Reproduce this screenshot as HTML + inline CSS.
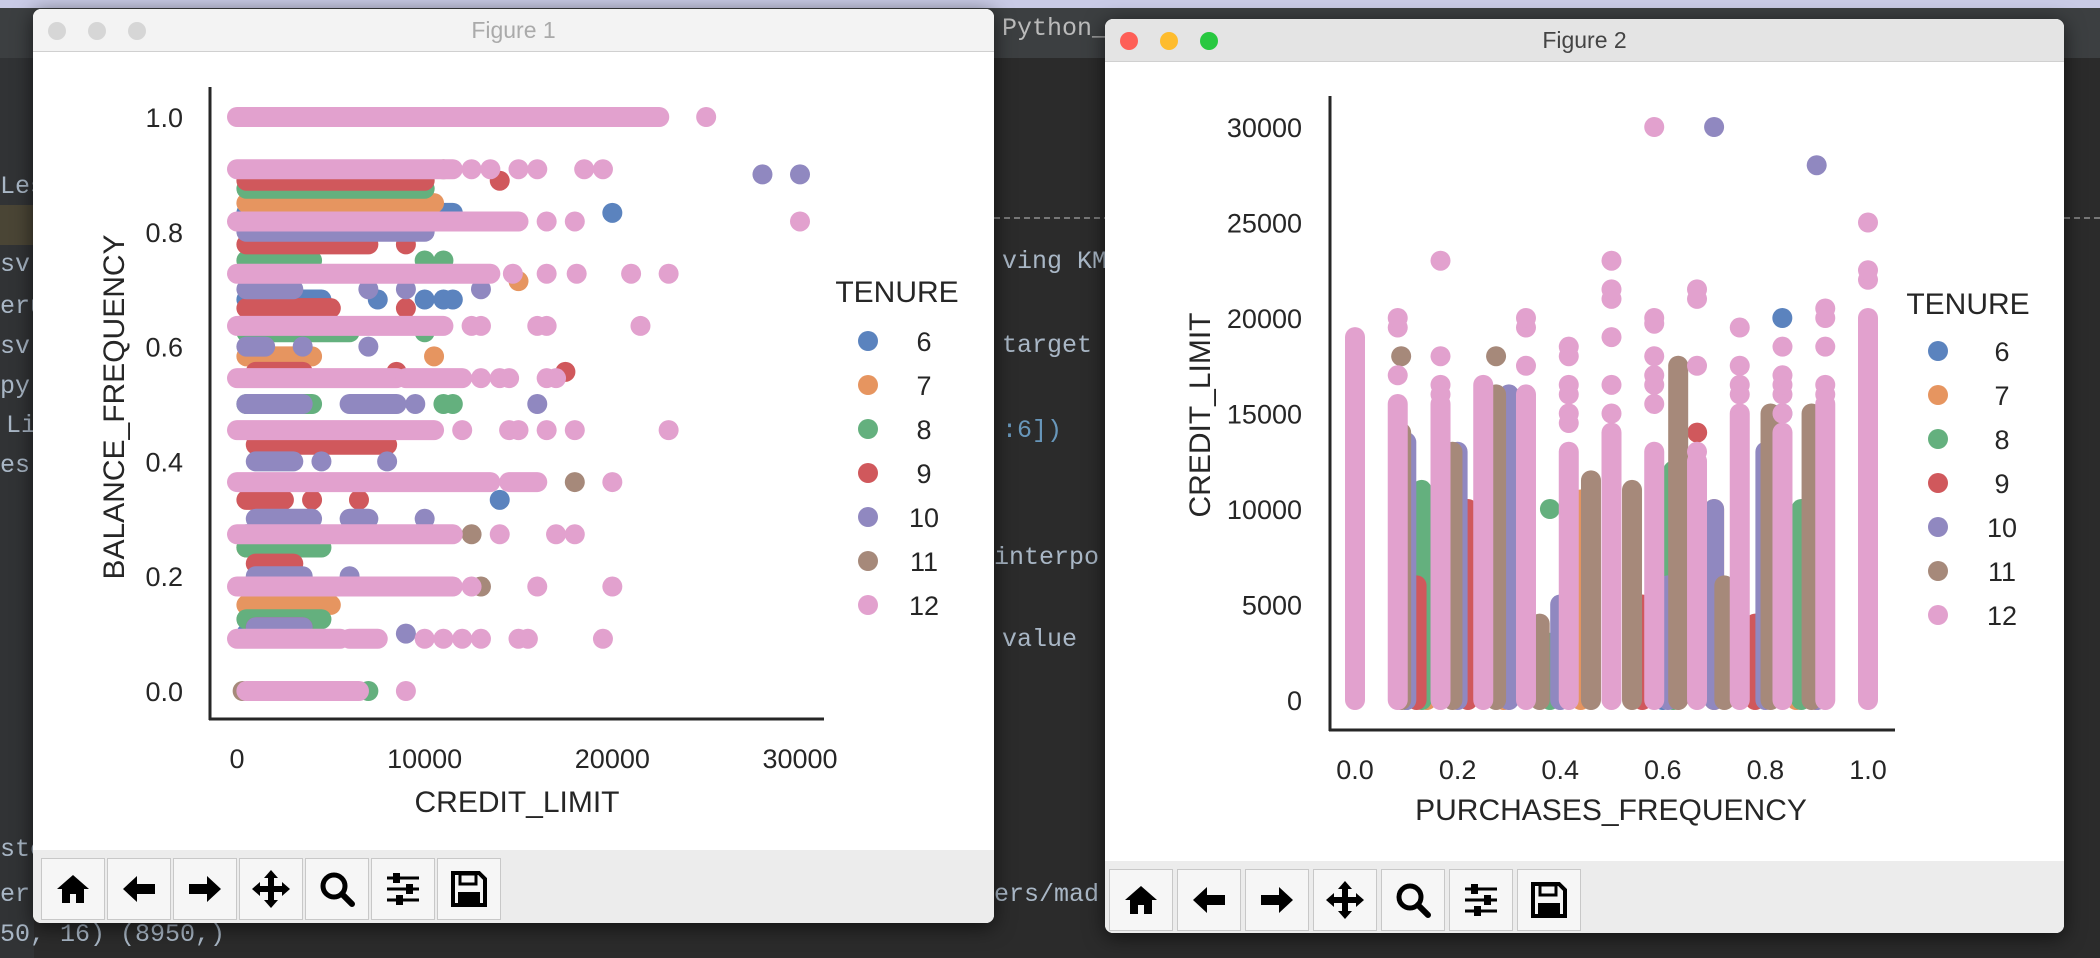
<!DOCTYPE html>
<html><head><meta charset="utf-8">
<style>
html,body{margin:0;padding:0;width:2100px;height:958px;overflow:hidden;background:#2b2b2b;font-family:"Liberation Sans",sans-serif;}
.abs{position:absolute;}
.ide{position:absolute;font-family:"Liberation Mono",monospace;font-size:25px;color:#a9b7c6;white-space:pre;}
.win{position:absolute;background:#fff;border-radius:8px;overflow:hidden;box-shadow:0 4px 20px rgba(0,0,0,.6);}
.title{position:absolute;left:0;right:0;top:0;height:42px;background:#ececec;border-bottom:1px solid #d0d0d0;text-align:center;line-height:42px;font-size:23px;}
.dot{position:absolute;top:13px;width:18px;height:18px;border-radius:50%;}
.tb{position:absolute;left:0;right:0;background:#ececec;}
.btn{position:absolute;top:8px;width:62px;height:60px;border:1px solid #c8c8c8;background:#f6f6f6;}
</style></head>
<body>
<div class="abs" style="left:0;top:0;width:2100px;height:8px;background:#c9cbe6"></div>
<div class="abs" style="left:0;top:8px;width:2100px;height:50px;background:#3c3f41"></div>
<div class="abs" style="left:0;top:58px;width:34px;height:900px;background:#313335"></div>
<div class="abs" style="left:0;top:205px;width:34px;height:40px;background:#4a4535"></div>
<div class="abs" style="left:994px;top:217px;width:1106px;border-top:2px dashed #777"></div>
<div class="ide" style="left:1002px;top:14px;color:#bbb">Python_</div>
<div class="ide" style="left:0;top:172px">Les</div>
<div class="ide" style="left:0;top:250px">sv</div>
<div class="ide" style="left:0;top:292px">eru</div>
<div class="ide" style="left:0;top:332px">sv</div>
<div class="ide" style="left:0;top:372px">py</div>
<div class="ide" style="left:6px;top:411px">Li</div>
<div class="ide" style="left:0;top:451px">es</div>
<div class="ide" style="left:0;top:835px">ste</div>
<div class="ide" style="left:0;top:880px">er</div>
<div class="ide" style="left:0;top:920px">50, 16) (8950,)</div>
<div class="ide" style="left:1002px;top:247px">ving KMe</div>
<div class="ide" style="left:1002px;top:331px">target</div>
<div class="ide" style="left:1002px;top:416px;color:#6897bb">:6])</div>
<div class="ide" style="left:994px;top:543px">interpo</div>
<div class="ide" style="left:1002px;top:625px">value</div>
<div class="ide" style="left:994px;top:880px">ers/mad</div>

<div class="win" style="left:33px;top:9px;width:961px;height:914px">
  <div class="title" style="color:#aaa;background:#f3f3f3">Figure 1
    <span class="dot" style="left:15px;background:#d6d6d6"></span><span class="dot" style="left:55px;background:#d6d6d6"></span><span class="dot" style="left:95px;background:#d6d6d6"></span></div>
  <div class="tb" style="top:841px;height:73px" id="tb1"></div>
</div>
<div class="win" style="left:1105px;top:19px;width:959px;height:914px">
  <div class="title" style="color:#444;background:#e4e4e4">Figure 2
    <span class="dot" style="left:15px;background:#fe5f57"></span><span class="dot" style="left:55px;background:#febc2e"></span><span class="dot" style="left:95px;background:#28c840"></span></div>
  <div class="tb" style="top:842px;height:72px" id="tb2"></div>
</div>

<svg id="plot" class="abs" style="left:0;top:0" width="2100" height="958" xmlns="http://www.w3.org/2000/svg"></svg>

<script>
// ---------- Figure 1 data: BALANCE_FREQUENCY vs CREDIT_LIMIT ----------
const tenureLabels = ["6","7","8","9","10","11","12"];
const tenureColors = ["#5b83be","#e69560","#64b07e","#d0585c","#9088c0","#a6897a","#e2a1ce"];
const f1XTicks = [0,10000,20000,30000];
const f1YTicks = [0.0,0.2,0.4,0.6,0.8,1.0];
// runs: [y, xStart, xEnd]; points: [x, y]
const f1Runs6 = [[0.833,500,11500],[0.682,500,4500],[0.273,500,3000],[0.182,500,6000],[0.1,500,2500]];
const f1Pts6 = [[20000,0.833],[7500,0.682],[10000,0.682],[11000,0.682],[11500,0.682],[14000,0.333]];
const f1Runs7 = [[0.85,500,10000],[0.583,500,4000],[0.15,500,5000],[0.25,500,1000]];
const f1Pts7 = [[10500,0.583],[15000,0.714],[10500,0.85]];
const f1Runs8 = [[0.875,500,10000],[0.75,500,4000],[0.5,500,4000],[0.125,500,4500],[0.625,500,6000],[0.25,500,4500]];
const f1Pts8 = [[10000,0.75],[11000,0.75],[11000,0.5],[11500,0.5],[7000,0.0],[10000,0.625]];
const f1Runs9 = [[0.889,500,10000],[0.778,500,7000],[0.667,500,5000],[0.556,1000,3500],[0.429,1000,8000],[0.333,500,2500],[0.222,1000,3000],[0.111,1000,3500]];
const f1Pts9 = [[14000,0.889],[9000,0.778],[9000,0.667],[8500,0.556],[17500,0.556],[6500,0.333],[4000,0.333]];
const f1Runs10 = [[0.8,500,10000],[0.7,500,3000],[0.6,500,1500],[0.5,500,3500],[0.5,6000,8500],[0.4,1000,3000],[0.3,1000,4000],[0.3,6000,7000],[0.2,1000,3500],[0.111,1000,3500]];
const f1Pts10 = [[28000,0.9],[30000,0.9],[7000,0.7],[9000,0.7],[13000,0.7],[3500,0.6],[7000,0.6],[9500,0.5],[16000,0.5],[4500,0.4],[8000,0.4],[10000,0.3],[6000,0.2],[9000,0.1]];
const f1Runs11 = [];
const f1Pts11 = [[11000,0.909],[18000,0.364],[12500,0.273],[13000,0.182],[7500,0.182],[300,0.0]];
const f1Runs12 = [[1.0,0,22500],[0.909,0,11500],[0.818,0,15000],[0.727,0,13500],[0.636,0,11000],[0.545,0,8500],[0.545,9000,12000],[0.4545,0,10500],[0.364,0,13500],[0.364,14500,16000],[0.273,0,11500],[0.182,0,11500],[0.091,0,5500],[0.091,6000,7500],[0.0,500,6500]];
const f1Pts12 = [[25000,1.0],[12500,0.909],[13500,0.909],[15000,0.909],[16000,0.909],[18500,0.909],[19500,0.909],[16500,0.818],[18000,0.818],[30000,0.818],[14700,0.727],[16500,0.727],[18100,0.727],[21000,0.727],[23000,0.727],[12500,0.636],[13000,0.636],[16000,0.636],[16500,0.636],[21500,0.636],[13000,0.545],[14000,0.545],[14500,0.545],[16500,0.545],[17000,0.545],[12000,0.4545],[14500,0.4545],[15000,0.4545],[16500,0.4545],[18000,0.4545],[23000,0.4545],[20000,0.364],[14000,0.273],[17000,0.273],[18000,0.273],[12500,0.182],[16000,0.182],[20000,0.182],[10000,0.091],[11000,0.091],[12000,0.091],[13000,0.091],[15000,0.091],[15500,0.091],[19500,0.091],[9000,0.0]];

// ---------- Figure 2 data: CREDIT_LIMIT vs PURCHASES_FREQUENCY ----------
const f2XTicks = [0.0,0.2,0.4,0.6,0.8,1.0];
const f2YTicks = [0,5000,10000,15000,20000,25000,30000];
// runs: [x, yStart, yEnd]; points: [x, y]
const f2Runs6 = [[0.1,0,3000],[0.6,0,2500]];
const f2Pts6 = [[0.833,20000],[0.833,15000]];
const f2Runs7 = [[0.14,0,5000],[0.29,0,9000],[0.44,0,10500],[0.7,0,10000],[0.86,0,9000]];
const f2Pts7 = [[0.29,8800]];
const f2Runs8 = [[0.13,0,11000],[0.38,0,3000],[0.62,0,12000],[0.87,0,10000]];
const f2Pts8 = [[0.38,10000]];
const f2Runs9 = [[0.12,0,6000],[0.22,0,10000],[0.56,0,5000],[0.78,0,4000],[0.9,0,6000]];
const f2Pts9 = [[0.667,14000]];
const f2Runs10 = [[0.1,0,13500],[0.2,0,13000],[0.3,0,16000],[0.4,0,5000],[0.61,0,6000],[0.7,0,10000],[0.8,0,13000],[0.9,0,10000]];
const f2Pts10 = [[0.7,30000],[0.9,28000]];
const f2Runs11 = [[0.09,0,14000],[0.19,0,13000],[0.275,0,16000],[0.36,0,4000],[0.46,0,11500],[0.54,0,11000],[0.63,0,17500],[0.72,0,6000],[0.81,0,15000],[0.89,0,15000]];
const f2Pts11 = [[0.09,18000],[0.275,18000]];
const f2Runs12 = [[0,0,19000],[0.0833,0,15500],[0.1667,0,15500],[0.25,0,16500],[0.3333,0,16000],[0.4167,0,13000],[0.5,0,14000],[0.5833,0,13000],[0.6667,0,12500],[0.75,0,15000],[0.8333,0,14000],[0.9167,0,15500],[1.0,0,20000]];
const f2Pts12 = [[0.0833,17000],[0.0833,19500],[0.0833,20000],[0.1667,16000],[0.1667,16500],[0.1667,18000],[0.1667,23000],[0.3333,17500],[0.3333,19500],[0.3333,20000],[0.4167,14500],[0.4167,15000],[0.4167,16000],[0.4167,16500],[0.4167,18000],[0.4167,18500],[0.5,15000],[0.5,16500],[0.5,19000],[0.5,21000],[0.5,21500],[0.5,23000],[0.5833,15500],[0.5833,16500],[0.5833,17000],[0.5833,18000],[0.5833,19700],[0.5833,20000],[0.5833,30000],[0.6667,13000],[0.6667,17500],[0.6667,21000],[0.6667,21500],[0.75,16000],[0.75,16500],[0.75,17500],[0.75,19500],[0.8333,15000],[0.8333,16000],[0.8333,16500],[0.8333,17000],[0.8333,18500],[0.9167,16000],[0.9167,16500],[0.9167,18500],[0.9167,20000],[0.9167,20500],[1.0,22000],[1.0,22500],[1.0,25000]];

const NS = "http://www.w3.org/2000/svg";
const svg = document.getElementById("plot");
const R = 10;
function mk(tag, attrs, parent){ const e=document.createElementNS(NS,tag); for(const k in attrs) e.setAttribute(k,attrs[k]); (parent||svg).appendChild(e); return e; }

// axis functions
const f1x = v => 237 + v*(800-237)/30000;
const f1y = v => 691 - v*(691-117);
const f2x = v => 1355 + v*(1868-1355);
const f2y = v => 700 - v*(700-127)/30000;

function drawFig1(){
  const g = mk("g",{});
  
  
  const runs=[f1Runs6,f1Runs7,f1Runs8,f1Runs9,f1Runs10,f1Runs11,f1Runs12];
  const pts=[f1Pts6,f1Pts7,f1Pts8,f1Pts9,f1Pts10,f1Pts11,f1Pts12];
  for(let s=0;s<7;s++){
    const sg = mk("g",{fill:tenureColors[s],stroke:tenureColors[s]},g);
    
    
    runs[s].forEach(r=>{ const l=mk("line",{x1:f1x(r[1]),x2:f1x(r[2]),y1:f1y(r[0]),y2:f1y(r[0]),"stroke-width":2*R,"stroke-linecap":"round"},sg);
        });
    pts[s].forEach(p=>{ const c=mk("circle",{cx:f1x(p[0]),cy:f1y(p[1]),r:R,stroke:"none"},sg);
        });
  }
  const ya=mk("line",{x1:210,x2:210,y1:87,y2:720,stroke:"#262626","stroke-width":3},g);
   
  const xa=mk("line",{x1:209,x2:824,y1:719,y2:719,stroke:"#262626","stroke-width":3},g);
   
  f1XTicks.forEach(t=>{ const e=mk("text",{x:f1x(t),y:768,"text-anchor":"middle","font-size":27,fill:"#262626"},g); e.textContent=t;
      });
  f1YTicks.forEach(t=>{ const e=mk("text",{x:183,y:f1y(t)+10,"text-anchor":"end","font-size":27,fill:"#262626"},g); e.textContent=t.toFixed(1);
      });
  const xl=mk("text",{x:517,y:812,"text-anchor":"middle","font-size":30,fill:"#262626"},g); xl.textContent="CREDIT_LIMIT";
   
  const yl=mk("text",{x:0,y:0,"text-anchor":"middle","font-size":30,fill:"#262626",transform:"translate(124,407) rotate(-90)"},g); yl.textContent="BALANCE_FREQUENCY";
   
  legend(g, 897, 302, 868, 924, 341);
}
function drawFig2(){
  const g = mk("g",{});
  
  
  const runs=[f2Runs6,f2Runs7,f2Runs8,f2Runs9,f2Runs10,f2Runs11,f2Runs12];
  const pts=[f2Pts6,f2Pts7,f2Pts8,f2Pts9,f2Pts10,f2Pts11,f2Pts12];
  for(let s=0;s<7;s++){
    const sg = mk("g",{fill:tenureColors[s],stroke:tenureColors[s]},g);
    
    
    runs[s].forEach(r=>{ const l=mk("line",{x1:f2x(r[0]),x2:f2x(r[0]),y1:f2y(r[1]),y2:f2y(r[2]),"stroke-width":2*R,"stroke-linecap":"round"},sg);
        });
    pts[s].forEach(p=>{ const c=mk("circle",{cx:f2x(p[0]),cy:f2y(p[1]),r:R,stroke:"none"},sg);
        });
  }
  const ya=mk("line",{x1:1330,x2:1330,y1:96,y2:731,stroke:"#262626","stroke-width":3},g);
   
  const xa=mk("line",{x1:1329,x2:1895,y1:730,y2:730,stroke:"#262626","stroke-width":3},g);
   
  f2XTicks.forEach(t=>{ const e=mk("text",{x:f2x(t),y:779,"text-anchor":"middle","font-size":27,fill:"#262626"},g); e.textContent=t.toFixed(1);
      });
  f2YTicks.forEach(t=>{ const e=mk("text",{x:1302,y:f2y(t)+10,"text-anchor":"end","font-size":27,fill:"#262626"},g); e.textContent=t;
      });
  const xl=mk("text",{x:1611,y:820,"text-anchor":"middle","font-size":30,fill:"#262626"},g); xl.textContent="PURCHASES_FREQUENCY";
   
  const yl=mk("text",{x:0,y:0,"text-anchor":"middle","font-size":30,fill:"#262626",transform:"translate(1210,415) rotate(-90)"},g); yl.textContent="CREDIT_LIMIT";
   
  legend(g, 1968, 314, 1938, 2002, 351);
}
function legend(g, tx, ty, mx, lx, y0){
  const lg=mk("g",{},g);
  
  
  const t=mk("text",{x:tx,y:ty,"text-anchor":"middle","font-size":30,fill:"#262626"},lg); t.textContent="TENURE";
   
  tenureLabels.forEach((lab,i)=>{
    const y=y0+i*44;
    const c=mk("circle",{cx:mx,cy:y,r:R,fill:tenureColors[i]},lg);
     
    const tt=mk("text",{x:lx,y:y+10,"text-anchor":"middle","font-size":27,fill:"#262626"},lg); tt.textContent=lab;
     
  });
}
drawFig1(); drawFig2();

// toolbars
const icons = [
 {n:"home-button", s:'<path d="M6 22 L22 8 L38 22 L33 22 L33 36 L25 36 L25 27 L19 27 L19 36 L11 36 L11 22 Z" fill="#000"/>'},
 {n:"back-button", s:'<path d="M6 22 L20 9 L20 17 L38 17 L38 27 L20 27 L20 35 Z" fill="#000"/>'},
 {n:"forward-button", s:'<path d="M38 22 L24 9 L24 17 L6 17 L6 27 L24 27 L24 35 Z" fill="#000"/>'},
 {n:"pan-button", s:'<path d="M22 3 L29 11 L25 11 L25 19 L33 19 L33 15 L41 22 L33 29 L33 25 L25 25 L25 33 L29 33 L22 41 L15 33 L19 33 L19 25 L11 25 L11 29 L3 22 L11 15 L11 19 L19 19 L19 11 L15 11 Z" fill="#000"/>'},
 {n:"zoom-button", s:'<circle cx="19" cy="19" r="11" fill="none" stroke="#000" stroke-width="5"/><line x1="27" y1="27" x2="37" y2="37" stroke="#000" stroke-width="6" stroke-linecap="round"/>'},
 {n:"configure-button", s:'<g stroke="#000" stroke-width="3"><line x1="6" y1="11" x2="38" y2="11"/><line x1="6" y1="22" x2="38" y2="22"/><line x1="6" y1="33" x2="38" y2="33"/></g><rect x="12" y="6" width="7" height="10" fill="#000"/><rect x="25" y="17" width="7" height="10" fill="#000"/><rect x="15" y="28" width="7" height="10" fill="#000"/>'},
 {n:"save-button", s:'<path d="M6 6 L32 6 L38 12 L38 38 L6 38 Z" fill="none" stroke="#000" stroke-width="4"/><rect x="13" y="7" width="16" height="10" fill="none" stroke="#000" stroke-width="3"/><rect x="11" y="25" width="22" height="11" fill="#000"/>'}
];
function toolbar(id, x0, step){
  const tb=document.getElementById(id);
  icons.forEach((ic,i)=>{
    const b=document.createElement("div");
    b.className="btn";
    b.style.left=(x0+i*step)+"px";
    
    
    b.innerHTML='<svg width="44" height="44" style="position:absolute;left:9px;top:8px" viewBox="0 0 44 44">'+ic.s+'</svg>';
    tb.appendChild(b);
  });
}
toolbar("tb1", 8, 66);
toolbar("tb2", 4, 68);
</script>
</body></html>
